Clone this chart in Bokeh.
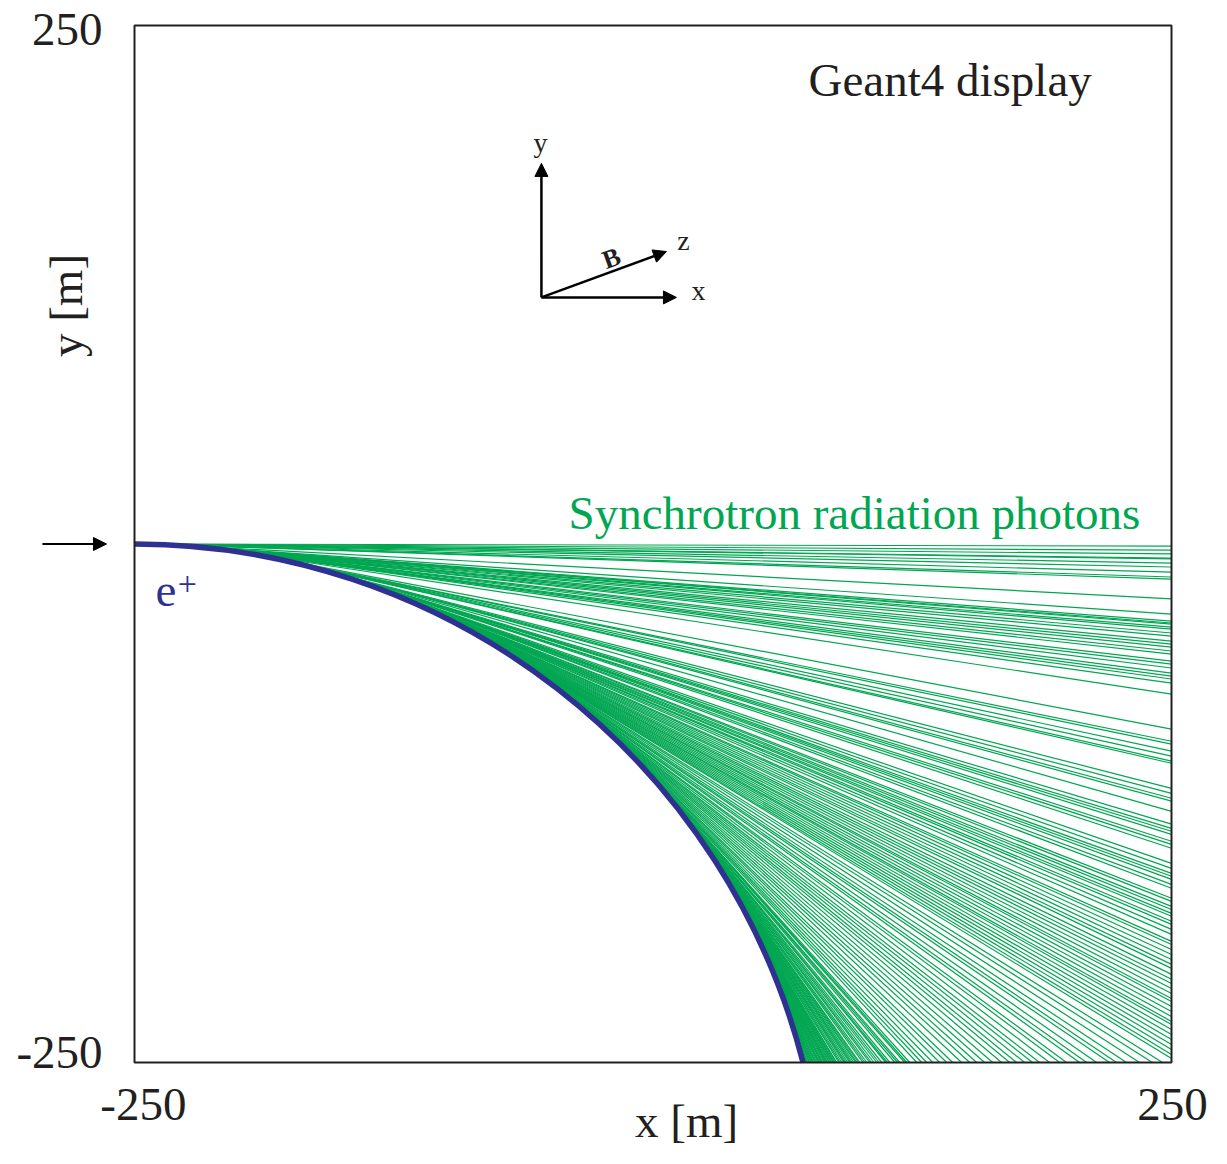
import numpy as np
from bokeh.plotting import figure
from bokeh.models import Label, Arrow, NormalHead, ColumnDataSource
from bokeh.embed import file_html
from bokeh.resources import INLINE

# ---------------- data (metres) ----------------
TRACK_RADIUS = 332.8          # radius of the e+ track (centre at x=-250, y=-R)
TRACK_START = (-250.0, 0.0)   # entry point of the positron

# plotted box
BOX_X = (-250, 250)
BOX_Y = (-250, 250)
x_tick_values = [-250, 250]
y_tick_values = [-250, 250]
x_tick_labels = ["-250", "250"]
y_tick_labels = ["-250", "250"]

# y where photons leave through the right edge (x = 250)
right_exit_y = [-1.0, -3.0, -4.8, -6.8, -7.2, -9.2, -11.1, -13.6, -15.9, -16.9, -26.5,
                -33.8, -37.2, -38.1, -38.6, -40.1, -41.0, -42.9, -44.4, -46.8, -48.3,
                -49.7, -51.6, -53.1, -56.5, -57.9, -59.8, -62.3, -63.7, -65.1, -67.1,
                -72.4, -89.3, -95.1, -96.5, -99.9, -102.3, -104.7, -105.7, -117.8,
                -120.2, -122.6, -124.0, -128.9, -135.1, -137.1, -138.5, -140.0, -143.3,
                -144.8, -146.7, -154.0, -156.4, -158.8, -160.2, -161.7, -164.1, -166.0,
                -170.8, -172.3, -174.7, -176.2, -178.1, -179.5, -181.9, -183.4, -185.8,
                -188.2, -191.6, -193.1, -195.5, -197.9, -200.3, -202.7, -204.6, -207.5,
                -209.9, -211.9, -214.3, -216.7, -219.1, -220.6, -223.0, -225.4, -227.8,
                -230.2, -231.7, -234.1, -236.5, -238.9, -241.3, -243.7, -246.1, -248.1]

# x where photons leave through the bottom edge (y = -250)
bottom_exit_x = [72.6, 72.9, 73.3, 73.6, 73.9, 74.3, 74.6, 75.2, 75.6, 76.1, 76.6, 77.0,
                 77.5, 78.1, 78.4, 79.0, 79.6, 80.0, 80.4, 81.0, 81.4, 81.8, 82.4, 82.9,
                 83.4, 83.8, 84.2, 84.8, 85.3, 85.9, 86.2, 86.8, 87.2, 87.7, 88.3, 88.6,
                 89.6, 90.2, 91.0, 91.9, 92.5, 93.1, 93.9, 94.8, 95.4, 96.0, 96.8, 97.7,
                 98.3, 99.1, 99.7, 101.2, 102.1, 103.1, 104.5, 105.3, 106.5, 107.9, 109.0,
                 110.3, 112.2, 113.0, 114.2, 116.6, 117.9, 119.0, 121.4, 122.4, 123.8,
                 127.2, 129.6, 132.0, 134.9, 138.2, 141.6, 144.5, 148.8, 152.7, 156.1,
                 159.9, 163.8, 168.1, 172.0, 175.3, 179.2, 183.0, 186.4, 191.2, 196.1,
                 199.4, 205.7, 209.1, 213.9, 220.1, 223.5, 228.3, 234.6, 240.8, 245.7]

GREEN = "#00a651"
BLUE = "#2e3192"
INK = "#231f20"
FONT = "Liberation Serif"

# ---------------- layout: canvas covers the whole figure ----------------
W, H = 1211, 1148
PX_PER_M = 2.074
BOX_LEFT_PX, BOX_TOP_PX = 134, 25
x0r = BOX_X[0] - BOX_LEFT_PX / PX_PER_M
y1r = BOX_Y[1] + BOX_TOP_PX / PX_PER_M
X_RANGE = (x0r, x0r + W / PX_PER_M)
Y_RANGE = (y1r - H / PX_PER_M, y1r)

# ---------------- geometry: tangent point on the track for every photon ----------------
ex = np.array([BOX_X[1]] * len(right_exit_y) + list(bottom_exit_x), dtype=float)
ey = np.array(list(right_exit_y) + [BOX_Y[0]] * len(bottom_exit_x), dtype=float)
cx, cy = TRACK_START[0], TRACK_START[1] - TRACK_RADIUS
vx, vy = ex - cx, ey - cy
d = np.hypot(vx, vy)
phi = np.arctan2(vy, vx)
alpha = np.arccos(np.clip(TRACK_RADIUS / d, -1, 1))
psi = phi + alpha
tx = cx + TRACK_RADIUS * np.cos(psi)
ty = cy + TRACK_RADIUS * np.sin(psi)
src = ColumnDataSource(dict(x0=tx, y0=ty, x1=ex, y1=ey))
track_end_angle = np.arcsin((BOX_Y[0] - cy) / TRACK_RADIUS)

# ---------------- figure ----------------
p = figure(width=W, height=H, x_range=X_RANGE, y_range=Y_RANGE,
           output_backend="svg", toolbar_location=None,
           min_border_left=0, min_border_right=0, min_border_top=0, min_border_bottom=0)
p.axis.visible = False
p.grid.visible = False
p.outline_line_color = None
p.background_fill_color = "white"
p.border_fill_color = "white"

# photons
p.segment(x0="x0", y0="y0", x1="x1", y1="y1", source=src,
          line_color=GREEN, line_width=1.2)

# positron track
p.arc(x=[cx], y=[cy], radius=TRACK_RADIUS, start_angle=np.pi / 2,
      end_angle=track_end_angle, direction="clock", line_color=BLUE, line_width=5.5)

# plot box
p.quad(left=[BOX_X[0]], right=[BOX_X[1]], bottom=[BOX_Y[0]], top=[BOX_Y[1]],
       fill_color=None, line_color=INK, line_width=2)

# ---------------- texts ----------------
def lab(x, y, text, size, color=INK, align="left", baseline="alphabetic", angle=0.0, style="normal"):
    p.add_layout(Label(x=x, y=y, text=text, text_font=FONT, text_font_size=size,
                       text_color=color, text_align=align, text_baseline=baseline,
                       angle=angle, text_font_style=style))

# tick labels
for v, t in zip(y_tick_values, y_tick_labels):
    lab(BOX_X[0] - 15.4, v - 1.9 if v > 0 else v + 4.8, t, "47px", align="right")
for v, t in zip(x_tick_values, x_tick_labels):
    lab(v + (4.3 if v < 0 else 0.5), BOX_Y[0] - 20.3, t, "47px", align="center")

# axis titles
lab(16.2, -290.9, "x [m]", "47px", align="center", baseline="bottom")
lab(-282.8, 115.0, "y [m]", "47px", align="center", baseline="middle", angle=np.pi / 2)

lab(75.0, 223.9, "Geant4 display", "47px")
lab(-40.7, 15.1, "Synchrotron radiation photons", "47px", color=GREEN)
lab(-239.9, -22.4, "e", "47px", color=BLUE)
lab(-224.5, -19.5, "+", "34px", color=BLUE, align="center", baseline="middle")

# inset coordinate system
ox, oy = -53.8, 118.9
head = dict(size=13, fill_color="black", line_color="black", line_width=1)
for (x1, y1) in ((ox, 183.5), (11.3, oy), (6.5, 141.0)):
    p.add_layout(Arrow(x_start=ox, y_start=oy, x_end=x1, y_end=y1, line_width=2.5,
                       line_color="black", end=NormalHead(**head)))
lab(-54.2, 193.4, "y", "28px", align="center", baseline="middle")
lab(14.7, 146.4, "z", "28px", align="center", baseline="middle")
lab(21.9, 122.3, "x", "28px", align="center", baseline="middle")
lab(-20.0, 137.7, "B", "26px", align="center", baseline="middle", angle=np.radians(20), style="bold")

# incoming beam arrow
p.add_layout(Arrow(x_start=-294.4, y_start=0, x_end=-263.5, y_end=0, line_width=2,
                   line_color="black", end=NormalHead(**head)))

open("out.html", "w").write(file_html(p, INLINE))
